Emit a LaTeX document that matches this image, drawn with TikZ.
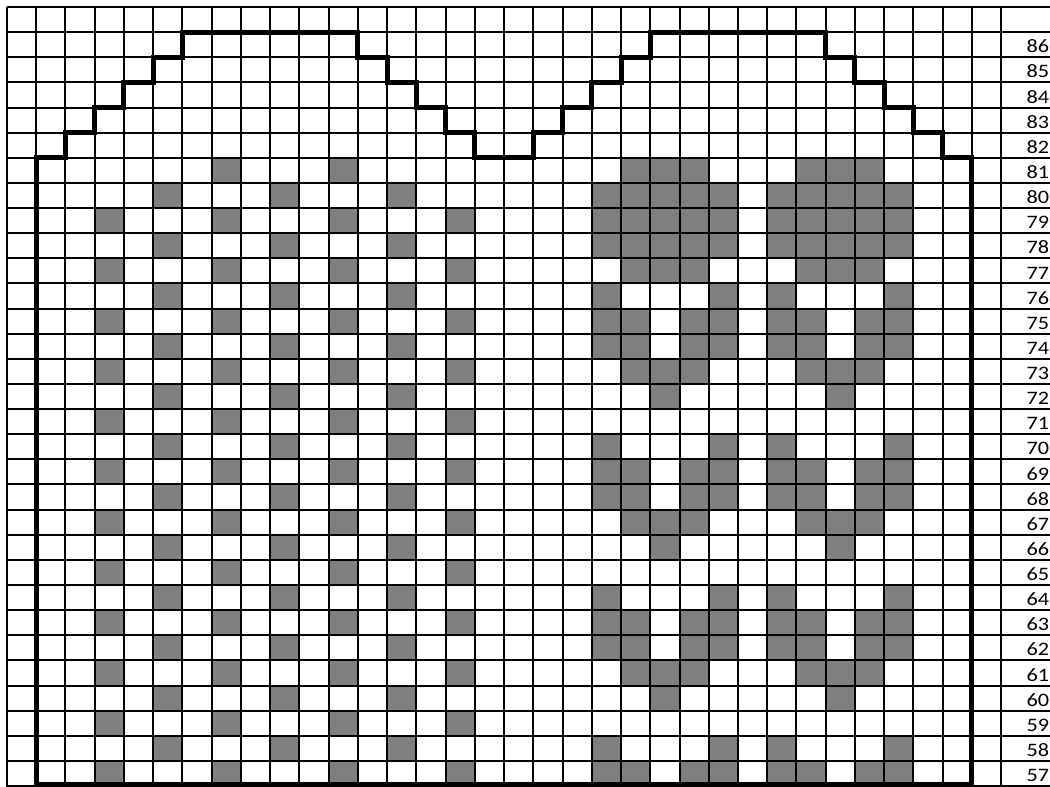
\documentclass[tikz,border=0pt]{standalone}
\usepackage{fontspec}
\setmainfont{Carlito}
\definecolor{cellgray}{RGB}{128,128,128}
\tikzset{
  gridline/.style={line width=2pt, black},
  outline/.style={line width=5pt, black, line join=miter},
  graycell/.style={fill=cellgray},
  rowlabel/.style={anchor=base west, inner sep=0pt, font=\fontsize{19}{21}\selectfont}
}
\newcommand{\Wd}{29.24}
\newcommand{\Ht}{25.13}
\begin{document}
\begin{tikzpicture}[x=1pt,y=-1pt]
\useasboundingbox (0,0) rectangle (1050,787);
\fill[white] (0,0) rectangle (1050,787);
% left dotted pattern
\foreach \c in {7,11} \fill[graycell] ({7+\c*\Wd},{7+6*\Ht}) rectangle ++(\Wd,\Ht);
\foreach \i in {8,10,...,30} \foreach \c in {3,7,11,15}
  \fill[graycell] ({7+\c*\Wd},{7+\i*\Ht}) rectangle ++(\Wd,\Ht);
\foreach \i in {7,9,...,29} \foreach \c in {5,9,13}
  \fill[graycell] ({7+\c*\Wd},{7+\i*\Ht}) rectangle ++(\Wd,\Ht);
% right motifs
\foreach \i/\cols in {
  6/{21,22,23,27,28,29},
  7/{20,21,22,23,24,26,27,28,29,30},
  8/{20,21,22,23,24,26,27,28,29,30},
  9/{20,21,22,23,24,26,27,28,29,30},
  10/{21,22,23,27,28,29},
  11/{20,24,26,30},
  12/{20,21,23,24,26,27,29,30},
  13/{20,21,23,24,26,27,29,30},
  14/{21,22,23,27,28,29},
  15/{22,28},
  17/{20,24,26,30},
  18/{20,21,23,24,26,27,29,30},
  19/{20,21,23,24,26,27,29,30},
  20/{21,22,23,27,28,29},
  21/{22,28},
  23/{20,24,26,30},
  24/{20,21,23,24,26,27,29,30},
  25/{20,21,23,24,26,27,29,30},
  26/{21,22,23,27,28,29},
  27/{22,28},
  29/{20,24,26,30},
  30/{20,21,23,24,26,27,29,30}}
  \foreach \c in \cols
    \fill[graycell] ({7+\c*\Wd},{7+\i*\Ht}) rectangle ++(\Wd,\Ht);
% grid
\foreach \c in {0,...,34}
  \draw[gridline] ({7+\c*\Wd},7) -- ({7+\c*\Wd},790);
\foreach \i in {0,...,31}
  \draw[gridline] (7,{7+\i*\Ht}) -- (1052,{7+\i*\Ht});
% thick outline
\draw[outline]
  ({7+1*\Wd},{7+31*\Ht-1.5}) -- ({7+1*\Wd},{7+6*\Ht})
  -- ({7+2*\Wd},{7+6*\Ht}) -- ({7+2*\Wd},{7+5*\Ht})
  -- ({7+3*\Wd},{7+5*\Ht}) -- ({7+3*\Wd},{7+4*\Ht})
  -- ({7+4*\Wd},{7+4*\Ht}) -- ({7+4*\Wd},{7+3*\Ht})
  -- ({7+5*\Wd},{7+3*\Ht}) -- ({7+5*\Wd},{7+2*\Ht})
  -- ({7+6*\Wd},{7+2*\Ht}) -- ({7+6*\Wd},{7+1*\Ht})
  -- ({7+12*\Wd},{7+1*\Ht}) -- ({7+12*\Wd},{7+2*\Ht})
  -- ({7+13*\Wd},{7+2*\Ht}) -- ({7+13*\Wd},{7+3*\Ht})
  -- ({7+14*\Wd},{7+3*\Ht}) -- ({7+14*\Wd},{7+4*\Ht})
  -- ({7+15*\Wd},{7+4*\Ht}) -- ({7+15*\Wd},{7+5*\Ht})
  -- ({7+16*\Wd},{7+5*\Ht}) -- ({7+16*\Wd},{7+6*\Ht})
  -- ({7+18*\Wd},{7+6*\Ht}) -- ({7+18*\Wd},{7+5*\Ht})
  -- ({7+19*\Wd},{7+5*\Ht}) -- ({7+19*\Wd},{7+4*\Ht})
  -- ({7+20*\Wd},{7+4*\Ht}) -- ({7+20*\Wd},{7+3*\Ht})
  -- ({7+21*\Wd},{7+3*\Ht}) -- ({7+21*\Wd},{7+2*\Ht})
  -- ({7+22*\Wd},{7+2*\Ht}) -- ({7+22*\Wd},{7+1*\Ht})
  -- ({7+28*\Wd},{7+1*\Ht}) -- ({7+28*\Wd},{7+2*\Ht})
  -- ({7+29*\Wd},{7+2*\Ht}) -- ({7+29*\Wd},{7+3*\Ht})
  -- ({7+30*\Wd},{7+3*\Ht}) -- ({7+30*\Wd},{7+4*\Ht})
  -- ({7+31*\Wd},{7+4*\Ht}) -- ({7+31*\Wd},{7+5*\Ht})
  -- ({7+32*\Wd},{7+5*\Ht}) -- ({7+32*\Wd},{7+6*\Ht})
  -- ({7+33*\Wd},{7+6*\Ht}) -- ({7+33*\Wd},{7+31*\Ht-1.5})
  -- cycle;
% row labels
\foreach \r in {57,...,86}
  \node[rowlabel] (lab\r) at (1026.5,{7+(88-\r)*\Ht-4.4}) {\scalebox{1.17}[1]{\r}};
\end{tikzpicture}
\end{document}
